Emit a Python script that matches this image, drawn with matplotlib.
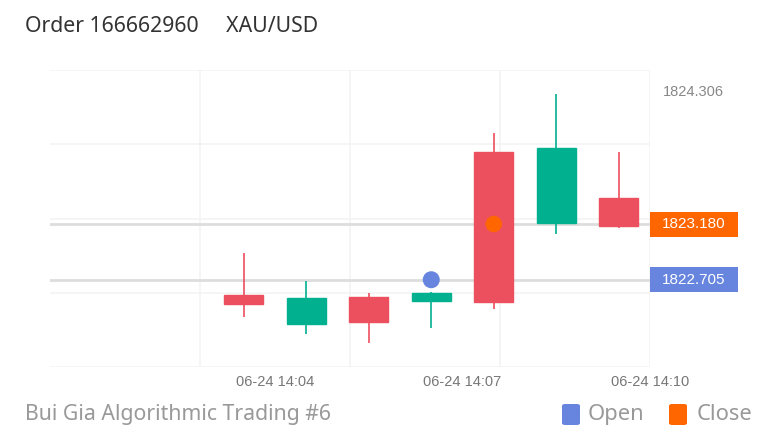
import matplotlib
matplotlib.use("Agg")
import matplotlib.pyplot as plt
from matplotlib.patches import Rectangle, FancyBboxPatch

# ---- data ----
times = [3.5, 4.5, 5.5, 6.5, 7.5, 8.5, 9.5]          # minutes after 14:00
opens = [1822.575, 1822.325, 1822.560, 1822.521, 1823.791, 1823.186, 1823.404]
highs = [1822.930, 1822.697, 1822.589, 1822.600, 1823.953, 1824.289, 1823.797]
lows = [1822.390, 1822.242, 1822.168, 1822.291, 1822.458, 1823.097, 1823.146]
closes = [1822.495, 1822.552, 1822.342, 1822.594, 1822.512, 1823.828, 1823.166]
tick_pos = [4, 7, 10]
tick_labels = ["06-24 14:04", "06-24 14:07", "06-24 14:10"]
open_time, open_price = 6.5, 1822.705
close_time, close_price = 7.5, 1823.180
y_label_value = 1824.306
title = "Order 166662960     XAU/USD"
footer = "Bui Gia Algorithmic Trading #6"

UP = "#00b08f"
DOWN = "#ec4f5e"
BLUE = "#6785de"
ORANGE = "#ff6600"

W, H = 775, 440
fig = plt.figure(figsize=(W / 100, H / 100), dpi=100)
ax = fig.add_axes([50 / W, (H - 367) / H, 600 / W, 297 / H])

xmin, xmax = 0.4, 10.0
ymin, ymax = 1821.961, 1824.493
ax.set_xlim(xmin, xmax)
ax.set_ylim(ymin, ymax)

# grid
for k in range(5):
    gy = ymin + k * (ymax - ymin) / 4
    ax.axhline(gy, color="#f3f3f3", lw=1.2, zorder=0)
for gx in [2.8, 5.2, 7.6, 10.0]:
    ax.axvline(gx, color="#f3f3f3", lw=1.2, zorder=0)

# mark lines
ax.axhline(close_price, color="#dddddd", lw=2, zorder=1)
ax.axhline(open_price, color="#dddddd", lw=2, zorder=1)

bw = 0.624
for t, o, h, l, c in zip(times, opens, highs, lows, closes):
    col = UP if c >= o else DOWN
    ax.vlines(t, l, h, color=col, lw=1.2, zorder=2)
    ax.add_patch(Rectangle((t - bw / 2, min(o, c)), bw, abs(c - o),
                           facecolor=col, edgecolor=col, lw=1, zorder=3))

ax.scatter([open_time], [open_price], s=150, color=BLUE, zorder=5, edgecolors="none")
ax.scatter([close_time], [close_price], s=140, color=ORANGE, zorder=5, edgecolors="none")

for s in ax.spines.values():
    s.set_visible(False)
ax.set_xticks(tick_pos)
ax.set_xticklabels(tick_labels, fontsize=10.5, color="#777777", family="Liberation Sans")
ax.tick_params(axis="x", length=0, pad=6)
ax.set_yticks([])

# y label
ax.text(1.022, (y_label_value - ymin) / (ymax - ymin), f"{y_label_value:.3f}",
        transform=ax.transAxes, ha="left", va="center", fontsize=10.5,
        color="#888888", family="Liberation Sans")

# price boxes
for price, col in [(close_price, ORANGE), (open_price, BLUE)]:
    yf = (price - ymin) / (ymax - ymin)
    ax.add_patch(Rectangle((1.0, yf - 12.5 / 297), 88 / 600, 25 / 297,
                           transform=ax.transAxes, facecolor=col, edgecolor="none",
                           clip_on=False, zorder=6))
    ax.text(1.0 + 44 / 600, yf, f"{price:.3f}", transform=ax.transAxes,
            ha="center", va="center", fontsize=11, color="white",
            family="Liberation Sans", zorder=7, clip_on=False)

fig.text(25 / W, 1 - 26 / H, title, ha="left", va="center", fontsize=15.3,
         color="#333333", family="Noto Sans")
fig.text(25 / W, 1 - 414 / H, footer, ha="left", va="center", fontsize=15.3,
         color="#999999", family="Noto Sans")

for x0, tx, col, lab in [(562, 588, BLUE, "Open"), (669, 697, ORANGE, "Close")]:
    fig.patches.append(FancyBboxPatch((x0 / W, 1 - 425 / H), 18 / W, 21 / H,
                                      boxstyle="round,pad=0,rounding_size=0.004",
                                      transform=fig.transFigure, facecolor=col,
                                      edgecolor="none"))
    fig.text(tx / W, 1 - 414 / H, lab, ha="left", va="center",
             fontsize=15.8, color="#999999", family="Noto Sans")

fig.savefig("out.png", dpi=100, facecolor="white")
